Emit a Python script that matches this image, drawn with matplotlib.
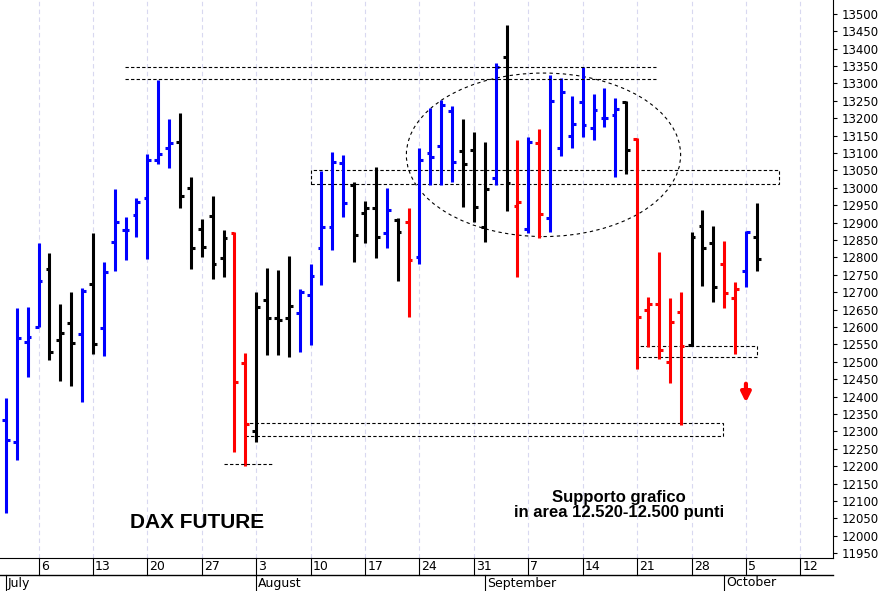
import matplotlib.pyplot as plt
from matplotlib.patches import Ellipse, Rectangle
from matplotlib.transforms import blended_transform_factory

# trading-day index: Mon 29 Jun = 0
day = list(range(2, 72))
opens = [12332, 12269, 12557, 12600, 12766, 12562, 12611, 12580, 12723, 12597,
         12844, 12879, 12922, 12971, 13080, 13114, 13132, 13000, 12881, 12919,
         12798, 12870, 12496, 12301, 12677, 12626, 12626, 12640, 12692, 12827,
         12887, 13071, 13008, 12927, 12942, 12870, 12907, 12902, 12801, 13100,
         13120, 13221, 13106, 13109, 12887, 13028, 13376, 12948, 12881, 13129,
         12913, 13114, 13149, 13247, 13172, 13201, 13209, 13247, 13140, 12649,
         12666, 12499, 12643, 12548, 12890, 12841, 12781, 12683, 12761, 12858]
highs = [12396, 12654, 12657, 12841, 12812, 12666, 12700, 12712, 12870, 12787,
         12997, 12916, 12971, 13097, 13310, 13198, 13215, 13031, 12910, 12976,
         12879, 12873, 12525, 12700, 12769, 12764, 12804, 12709, 12781, 13048,
         13103, 13094, 13017, 12962, 13060, 13000, 12913, 12942, 13114, 13229,
         13252, 13235, 13198, 13160, 13132, 13359, 13468, 13137, 13146, 13169,
         13324, 13315, 13264, 13347, 13270, 13287, 13258, 13249, 13143, 12686,
         12815, 12683, 12700, 12873, 12936, 12890, 12847, 12729, 12876, 12956]
lows = [12065, 12217, 12456, 12600, 12505, 12445, 12430, 12384, 12522, 12516,
        12761, 12792, 12858, 12795, 13068, 13057, 12942, 12766, 12801, 12738,
        12743, 12240, 12200, 12269, 12519, 12519, 12513, 12528, 12548, 12721,
        12821, 12916, 12787, 12841, 12798, 12827, 12732, 12628, 12781, 13008,
        13008, 13017, 12945, 12902, 12844, 13008, 12933, 12743, 12870, 12856,
        12873, 13091, 13114, 13146, 13137, 13175, 13031, 13040, 12479, 12542,
        12508, 12439, 12318, 12545, 12718, 12672, 12654, 12522, 12715, 12761]
closes = [12275, 12568, 12571, 12732, 12528, 12583, 12554, 12703, 12551, 12758,
          12902, 12879, 12959, 13080, 13097, 13129, 12976, 12827, 12830, 12781,
          12856, 12442, 12321, 12657, 12626, 12620, 12660, 12700, 12746, 12887,
          13074, 12956, 12864, 12942, 12858, 12936, 12873, 12792, 13080, 13089,
          13238, 13074, 13068, 12945, 12997, 13347, 13014, 12959, 13132, 12925,
          13249, 13275, 13183, 13180, 13224, 13201, 13226, 13109, 12628, 12666,
          12534, 12614, 12545, 12858, 12827, 12715, 12697, 12709, 12873, 12795]
colors = "bbbbkkkbkbbbbbbbkkkkkrrkkkkbbbbbkkkbkrbbbbkkkbkrbrbbbbbbbkrrrrrkkkrrbk"

week_days = [5, 10, 15, 20, 25, 30, 35, 40, 45, 50, 55, 60, 65, 70, 75]
week_labels = ["6", "13", "20", "27", "3", "10", "17", "24", "31", "7", "14", "21", "28", "5", "12"]
month_days = [2, 25, 46, 68]
month_labels = ["July", "August", "September", "October"]

cmap = {"b": "#0000ff", "k": "black", "r": "#ff0000"}

fig = plt.figure(figsize=(8.87, 5.91), dpi=100)
ax = fig.add_axes([0, 33 / 591, 833 / 887, 558 / 591])
ax.set_xlim(1.46, 78.0)
ax.set_ylim(11936, 13540)

for x in week_days:
    ax.axvline(x, color="#d8d8f0", lw=0.8, ls=(0, (4, 3)), zorder=0)

tl = 0.35
for d, o, h, l, c, col in zip(day, opens, highs, lows, closes, colors):
    cc = cmap[col]
    ax.plot([d, d], [l, h], color=cc, lw=2.2, solid_capstyle="butt")
    ax.plot([d - tl, d], [o, o], color=cc, lw=2.2, solid_capstyle="butt")
    ax.plot([d, d + tl], [c, c], color=cc, lw=2.2, solid_capstyle="butt")

dash = dict(color="black", lw=0.8, ls=(0, (3, 2)))
ax.plot([12.95, 61.7], [13347, 13347], **dash)
ax.plot([12.95, 61.7], [13313, 13313], **dash)
ax.plot([22.0, 26.6], [12206, 12206], **dash)
for x0, x1, y0, y1 in [(30, 73, 13011, 13051), (60, 71, 12513, 12545), (24, 67.9, 12286, 12324)]:
    ax.add_patch(Rectangle((x0, y0), x1 - x0, y1 - y0, fill=False, ec="black",
                           lw=0.8, ls=(0, (3, 2))))
ax.add_patch(Ellipse((51.4, 13095), 25.2, 470, fill=False, ec="black", lw=0.8,
                     ls=(0, (3, 3))))

ax.annotate("", xy=(70, 12375), xytext=(70, 12445),
            arrowprops=dict(arrowstyle="-|>", color="#ff0000", lw=3, mutation_scale=14))

ax.text(13.4, 12039, "DAX FUTURE", fontsize=15, fontweight="bold", ha="left", va="center",
        family="Liberation Sans")
ax.text(58.3, 12088, "Supporto grafico\nin area 12.520-12.500 punti", fontsize=12,
        fontweight="bold", ha="center", va="center", linespacing=1.05, family="Liberation Sans")

ax.yaxis.tick_right()
ax.set_yticks(range(11950, 13501, 50))
ax.tick_params(axis="y", labelsize=8.5, length=3, direction="out")
ax.set_xticks([])
for s in ["top", "left"]:
    ax.spines[s].set_visible(False)

# date band below the plot
tr = blended_transform_factory(ax.transData, ax.transAxes)
h = 1 / 558
ax.plot([1.46, 78.0], [-17 * h, -17 * h], color="black", lw=1, transform=tr, clip_on=False)
for x, lab in zip(week_days, week_labels):
    ax.plot([x, x], [0, -17 * h], color="black", lw=0.8, transform=tr, clip_on=False)
    ax.text(x + 0.2, -8.5 * h, lab, fontsize=9, ha="left", va="center", transform=tr)
for x, lab in zip(month_days, month_labels):
    ax.plot([x, x], [-17 * h, -33 * h], color="black", lw=0.8, transform=tr, clip_on=False)
    ax.text(x + 0.2, -25 * h, lab, fontsize=9, ha="left", va="center", transform=tr)

fig.savefig("out.png", dpi=100)
